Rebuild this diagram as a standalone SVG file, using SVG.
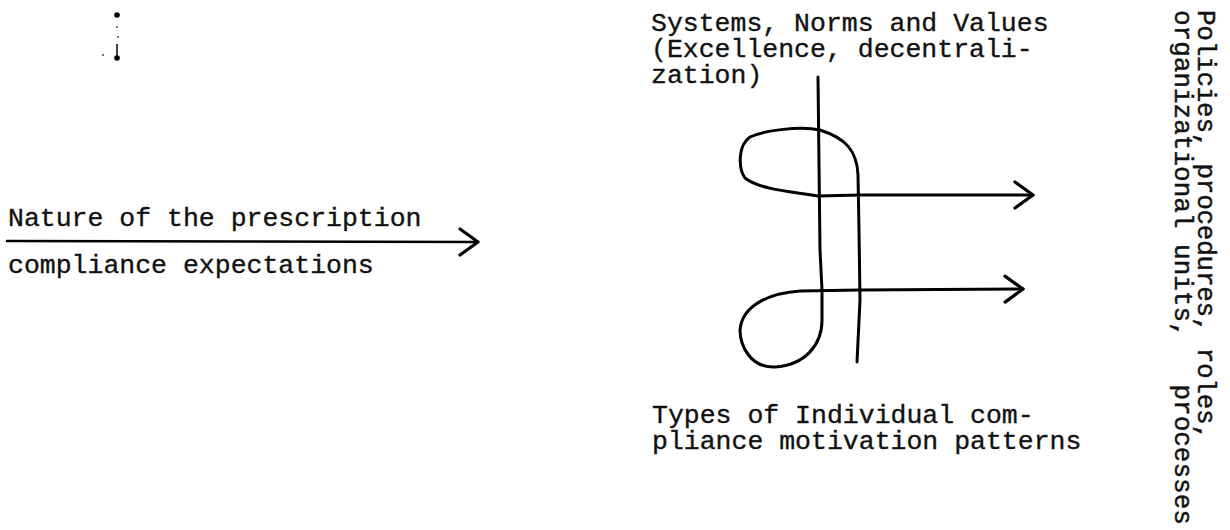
<svg xmlns="http://www.w3.org/2000/svg" width="1230" height="530" viewBox="0 0 1230 530">
<style>
.t{font-family:"Liberation Mono","DejaVu Sans Mono",monospace;font-size:26.5px;fill:#111;stroke:#111;stroke-width:0.35}
.r{font-family:"Liberation Mono","DejaVu Sans Mono",monospace;font-size:26px;fill:#111;stroke:#111;stroke-width:0.45}
.ln{fill:none;stroke:#000;stroke-width:3;stroke-linecap:round;stroke-linejoin:round}
</style>
<defs>
<marker id="ah" markerUnits="userSpaceOnUse" markerWidth="26" markerHeight="32" viewBox="0 0 26 32" refX="22" refY="16" orient="auto">
<path d="M4,3 L22,16 L4,29" fill="none" stroke="#000" stroke-width="3.2" stroke-linecap="round" stroke-linejoin="round"/>
</marker>
</defs>
<rect width="1230" height="530" fill="#fff"/>
<g id="mark">
<circle cx="117" cy="15" r="2.8" fill="#000"/>
<circle cx="117" cy="27" r="1" fill="#444"/>
<circle cx="118" cy="37" r="1" fill="#444"/>
<path d="M117,44 L117,56" stroke="#000" stroke-width="1.5"/>
<circle cx="117" cy="58" r="2.8" fill="#000"/>
<circle cx="103" cy="55" r="1" fill="#444"/>
</g>
<g id="left-label">
<text class="t" x="8" y="226">Nature of the prescription</text>
<text class="t" x="8" y="273">compliance expectations</text>
</g>
<g id="top-label">
<text class="t" x="651" y="31">Systems, Norms and Values</text>
<text class="t" x="651" y="57">(Excellence, decentrali-</text>
<text class="t" x="651" y="83">zation)</text>
</g>
<g id="bottom-label">
<text class="t" x="652" y="423">Types of Individual com-</text>
<text class="t" x="652" y="449">pliance motivation patterns</text>
</g>
<g id="right-label">
<text class="r" transform="translate(1198,10) rotate(90)" textLength="430" lengthAdjust="spacing">Policies, procedures, roles,</text>
<text class="r" transform="translate(1175,10) rotate(90)" xml:space="preserve">organizational units,   processes</text>
</g>
<g id="connectors">
<path class="ln" style="stroke-width:2.5" d="M7,241 L478,242" marker-end="url(#ah)"/>
<path class="ln" d="M857,362 L860,300 L859,230 L858,175 C857,150 845,138 820,130 C800,126 765,130 750,137 C738,145 738,168 745,178 C760,190 795,192 818,196 L860,195 L1033,195" marker-end="url(#ah)"/>
<path class="ln" d="M818,77 L820,250 L822,290 L822,320 C822,345 805,365 775,367 C750,368 740,345 740,330 C742,305 770,293 800,291 L860,290 L1023,289" marker-end="url(#ah)"/>
</g>
</svg>
